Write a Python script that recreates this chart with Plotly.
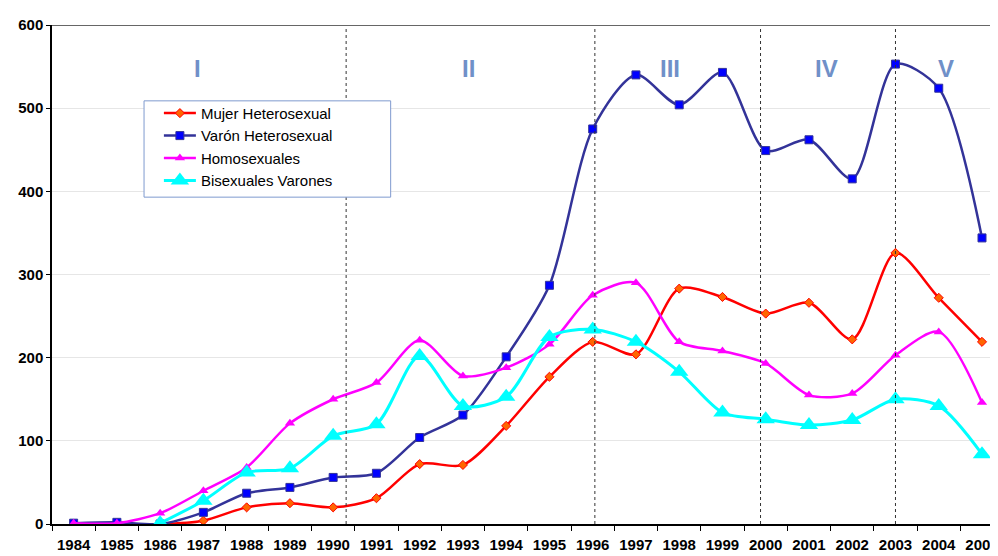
import plotly.graph_objects as go

years = [str(y) for y in range(1984, 2006)]
mujer = [None, None, 0, 4, 20, 25, 20, 31, 72, 71, 118, 177, 219, 204, 283, 273, 253, 266, 222, 326, 272, 219]
varon = [1, 2, 0, 14, 37, 44, 56, 61, 104, 131, 201, 287, 475, 540, 504, 543, 449, 462, 415, 553, 524, 344]
homo = [1, 1, 13, 40, 68, 121, 150, 170, 221, 178, 188, 216, 275, 290, 219, 208, 193, 155, 157, 203, 231, 146]
bisex = [None, None, 1, 28, 62, 67, 106, 120, 202, 142, 153, 225, 234, 219, 183, 134, 126, 119, 125, 150, 142, 84]

periods = ["I", "II", "III", "IV", "V"]
period_pos = [2.86, 9.14, 13.79, 17.4, 20.17]
dividers = [6.3, 12.05, 15.88, 19.0]

fig = go.Figure()
fig.add_trace(go.Scatter(x=years, y=mujer, name="Mujer Heterosexual", mode="lines+markers",
                         line=dict(color="#ff0000", width=2.5, shape="spline", smoothing=0.8),
                         marker=dict(symbol="diamond", size=7, color="#ff6600", line=dict(color="#ff0000", width=1))))
fig.add_trace(go.Scatter(x=years, y=varon, name="Varón Heterosexual", mode="lines+markers",
                         line=dict(color="#333399", width=2.5, shape="spline", smoothing=0.8),
                         marker=dict(symbol="square", size=8, color="#0000ff", line=dict(color="#333399", width=1))))
fig.add_trace(go.Scatter(x=years, y=homo, name="Homosexuales", mode="lines+markers",
                         line=dict(color="#ff00ff", width=2.5, shape="spline", smoothing=0.8),
                         marker=dict(symbol="triangle-up", size=9, color="#ff00ff")))
fig.add_trace(go.Scatter(x=years, y=bisex, name="Bisexuales Varones", mode="lines+markers",
                         line=dict(color="#00ffff", width=3, shape="spline", smoothing=0.8),
                         marker=dict(symbol="triangle-up", size=16, color="#00ffff")))

shapes = []
for d in dividers:
    shapes.append(dict(type="line", xref="x", yref="y", x0=d, x1=d, y0=0, y1=600,
                       line=dict(color="#333333", width=1, dash="dot")))
shapes.append(dict(type="line", xref="paper", yref="y", x0=0, x1=1, y0=600, y1=600,
                   line=dict(color="#666666", width=2)))
# legend frame
shapes.append(dict(type="rect", xref="paper", yref="paper", x0=0.0973, x1=0.358, y0=0.655, y1=0.848,
                   line=dict(color="#7f9acf", width=1), fillcolor="white", layer="above"))
fig.update_layout(shapes=shapes)

for p, x in zip(periods, period_pos):
    fig.add_annotation(x=x, y=548, xref="x", yref="y", text="<b>%s</b>" % p, showarrow=False,
                       font=dict(family="Liberation Sans, Arial", size=24, color="#7090c8"))

fig.update_layout(
    width=990, height=548,
    margin=dict(l=44, r=0, t=17, b=32),
    paper_bgcolor="white", plot_bgcolor="white",
    font=dict(family="Liberation Sans, Arial", color="black"),
    showlegend=True,
    legend=dict(x=0.113, y=0.856, xanchor="left", yanchor="top", itemwidth=32,
                borderwidth=0, bgcolor="rgba(0,0,0,0)",
                font=dict(size=15, family="Liberation Sans, Arial")),
    xaxis=dict(type="category", range=[-0.5, 21.37], tickson="boundaries", ticks="outside", ticklen=5,
               tickcolor="black", showline=True, linecolor="black", linewidth=1.5, showgrid=False,
               automargin=False,
               tickfont=dict(size=15, family="Liberation Sans, Arial", weight="bold"), ticklabelstandoff=6),
    yaxis=dict(range=[0, 600], tickvals=[0, 100, 200, 300, 400, 500, 600], ticks="outside", ticklen=4,
               tickcolor="black", showline=True, linecolor="black", linewidth=1.5,
               gridcolor="#e6e6e6", gridwidth=1, zeroline=False, automargin=False,
               tickfont=dict(size=15, family="Liberation Sans, Arial", weight="bold")),
)

fig.write_html("out.html")
